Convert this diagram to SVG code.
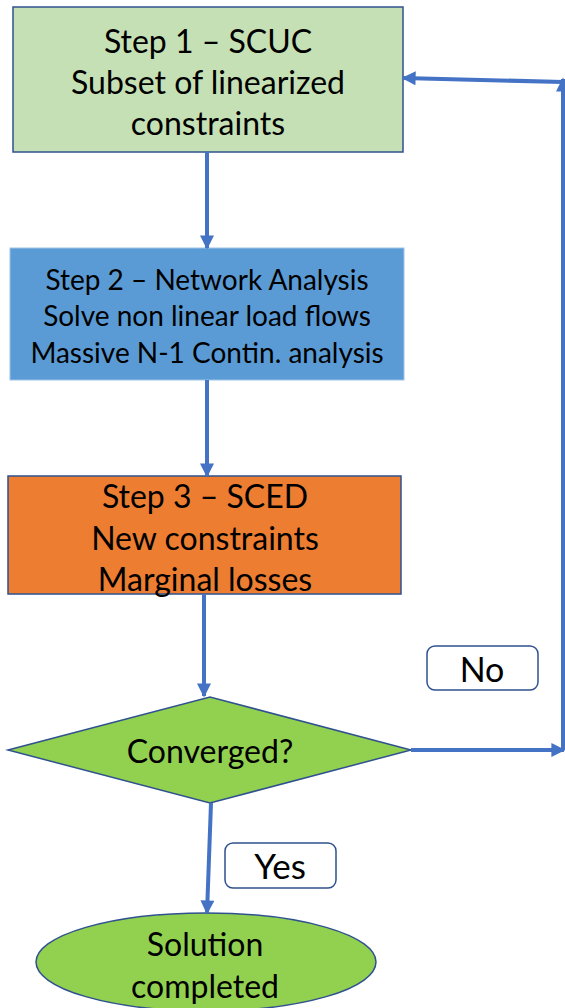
<svg xmlns="http://www.w3.org/2000/svg" width="565" height="1008" viewBox="0 0 565 1008">
<defs>
<marker id="ah" viewBox="0 0 10 10" refX="9" refY="5" markerWidth="15" markerHeight="14" orient="auto" markerUnits="userSpaceOnUse">
<path d="M0,0 L10,5 L0,10 z" fill="#4472c4"/>
</marker>
<style>
text{font-family:"Lato","Open Sans","Liberation Sans",sans-serif;fill:#000;text-anchor:middle;dominant-baseline:central}
.c{stroke:#4472c4;stroke-width:4;fill:none}
.b{stroke:#2f528f;stroke-width:1.5}
.t{font-size:32px}
.s{font-size:28px}
</style>
</defs>
<g id="step1">
<rect class="b" x="13" y="7" width="390" height="145" fill="#c5e0b4"/>
<text class="t" x="208" y="40">Step 1 – SCUC</text>
<text class="t" x="208" y="81">Subset of linearized</text>
<text class="t" x="208" y="122">constraints</text>
</g>
<g id="step2">
<rect x="10" y="248" width="394" height="132" fill="#5b9bd5" stroke="#9dc3e6" stroke-width="1"/>
<text class="s" x="207" y="279">Step 2 – Network Analysis</text>
<text class="s" x="207" y="315">Solve non linear load flows</text>
<text class="s" x="207" y="352">Massive N-1 Contin. analysis</text>
</g>
<g id="step3">
<rect class="b" x="8" y="476" width="393" height="118" fill="#ed7d31"/>
<text class="t" x="205" y="495">Step 3 – SCED</text>
<text class="t" x="205" y="537">New constraints</text>
<text class="t" x="205" y="578">Marginal losses</text>
</g>
<g id="converged">
<polygon class="b" points="8,750 210,697 411,750 210,803" fill="#92d050"/>
<text class="t" x="210" y="750">Converged?</text>
</g>
<g id="no">
<rect class="b" x="427" y="646" width="111" height="44" rx="8" fill="#fff"/>
<text x="482" y="668" font-size="34">No</text>
</g>
<g id="yes">
<rect class="b" x="225" y="843" width="111" height="45" rx="8" fill="#fff"/>
<text x="280" y="865" font-size="35">Yes</text>
</g>
<g id="solution">
<ellipse class="b" cx="206" cy="962" rx="170" ry="49" fill="#92d050"/>
<text class="t" x="205" y="943">Solution</text>
<text class="t" x="205" y="985">completed</text>
</g>
<g id="connectors">
<line class="c" x1="207" y1="152" x2="207" y2="248" marker-end="url(#ah)"/>
<line class="c" x1="207" y1="380" x2="207" y2="476" marker-end="url(#ah)"/>
<line class="c" x1="204" y1="594" x2="204" y2="696" marker-end="url(#ah)"/>
<line class="c" x1="411" y1="750" x2="564" y2="750" marker-end="url(#ah)"/>
<line class="c" x1="563" y1="750" x2="563" y2="79" marker-end="url(#ah)"/>
<line class="c" x1="563" y1="82" x2="403" y2="78" marker-end="url(#ah)"/>
<line class="c" x1="211" y1="803" x2="207" y2="913" marker-end="url(#ah)"/>
</g>
</svg>
